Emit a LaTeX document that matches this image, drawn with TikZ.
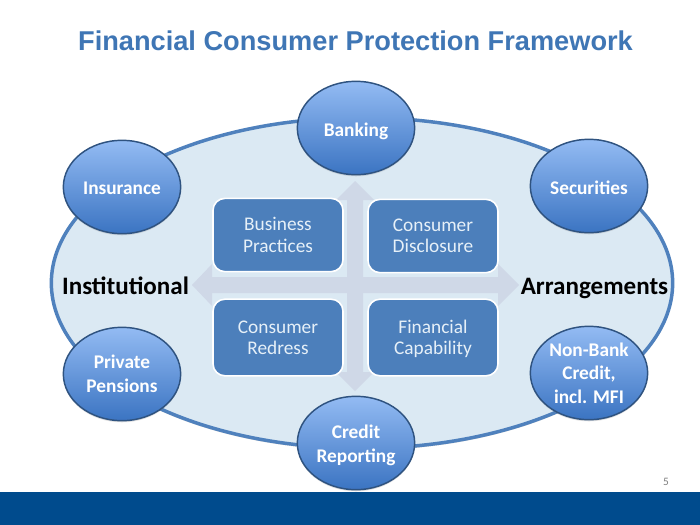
\documentclass[tikz,border=0pt]{standalone}
\usepackage{fontspec}
\setmainfont{Carlito}
\newfontfamily\titlefont{Liberation Sans}
\usetikzlibrary{shadows,calc,shapes.geometric}
\definecolor{titleblue}{HTML}{3F76B5}
\definecolor{bandblue}{HTML}{004B8D}
\definecolor{ringblue}{HTML}{4F81BD}
\definecolor{ringfill}{HTML}{DBE9F3}
\definecolor{crossfill}{HTML}{CFD8E7}
\definecolor{boxblue}{HTML}{4C7FBB}
\definecolor{circedge}{HTML}{2F5380}
\definecolor{circtop}{HTML}{93BBF3}
\definecolor{circbot}{HTML}{3B74C2}
\definecolor{textpale}{HTML}{E6F0F8}
\newcommand{\dn}[2][-1pt]{\raisebox{#1}[\height][0pt]{#2}}
\tikzset{
  circ/.style={ellipse,draw=circedge,line width=1.1pt,minimum width=88pt,minimum height=70pt,inner sep=0pt,
    top color=circtop,bottom color=circbot,text=white,align=center,font=\fontsize{14.5}{17.6}\selectfont\bfseries,
    drop shadow={shadow xshift=0pt,shadow yshift=-1.2pt,opacity=.25}},
  bx/.style={rectangle,rounded corners=9pt,draw=white,line width=1.2pt,fill=boxblue,text=textpale,align=center,
    minimum width=97.5pt,inner sep=0pt,font=\fontsize{14.5}{16}\selectfont},
  side/.style={font=\fontsize{18.8}{22}\selectfont\bfseries,text=black,inner sep=0pt,anchor=base},
}
\begin{document}
\begin{tikzpicture}[x=0.75pt,y=-0.75pt]
\useasboundingbox (0,0) rectangle (700,525);
\fill[white] (0,0) rectangle (700,525);
\fill[bandblue] (0,492) rectangle (700,525);
\node[font=\fontsize{8.5}{9}\selectfont,text=black!50,inner sep=0pt] (pg) at (666,482) {5};
\node[font=\titlefont\fontsize{20.4}{24}\selectfont\bfseries,text=titleblue,inner sep=0pt] (title) at (355.5,41) {Financial Consumer Protection Framework};
\node[ellipse,draw=ringblue,line width=2.6pt,fill=ringfill,minimum width=466pt,minimum height=248pt,inner sep=0pt,
  drop shadow={shadow xshift=0pt,shadow yshift=-1.5pt,opacity=.3}] (ring) at (362,283) {};
\fill[crossfill] (192,285) -- (212,264) -- (212,277) -- (347,277) -- (347,200) -- (336,200) -- (355,181)
  -- (374,200) -- (363,200) -- (363,277) -- (498,277) -- (498,264) -- (519,285) -- (498,306) -- (498,293)
  -- (363,293) -- (363,372) -- (374,372) -- (355,391) -- (336,372) -- (347,372) -- (347,293) -- (212,293) -- (212,306) -- cycle;
\node[bx,minimum height=55pt] (bp) at (278,235) {Business\\Practices};
\node[bx,minimum height=55pt] (cd) at (433,236) {Consumer\\Disclosure};
\node[bx,minimum height=57.5pt] (cr) at (278,337.5) {Consumer\\Redress};
\node[bx,minimum height=57.5pt] (fc) at (433,337.5) {Financial\\\raisebox{0pt}[\height][0pt]{Capability}};
\node[circ] (bank) at (356,128) {\dn{Banking}};
\node[circ] (ins) at (122,187) {\dn{Insurance}};
\node[circ] (sec) at (589,186) {\dn{Securities}};
\node[circ] (pen) at (122,374) {Private\\Pensions};
\node[circ] (nb) at (589,373) {Non-Bank\\Credit,\\incl. MFI};
\node[circ] (cred) at (356,443) {Credit\\\dn{Reporting}};
\node[side] (inst) at (125.5,294) {Institutional};
\node[side] (arr) at (594.5,294) {Arrangements};
\end{tikzpicture}
\end{document}
